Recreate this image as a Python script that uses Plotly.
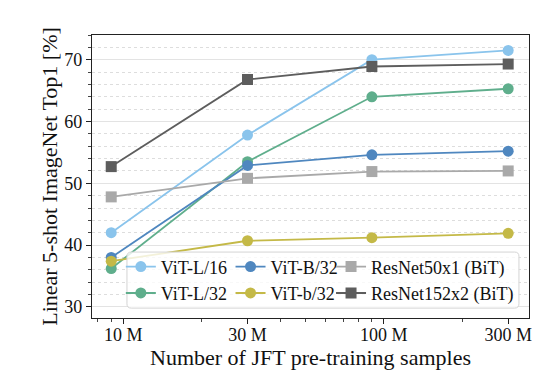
import plotly.graph_objects as go

samples_m = [9, 30, 90, 300]
tick_vals = [10, 30, 100, 300]
tick_text = ["10 M", "30 M", "100 M", "300 M"]

vit_l16 = [42.0, 57.8, 70.0, 71.5]
vit_l32 = [36.2, 53.5, 64.0, 65.3]
vit_b32 = [38.0, 52.9, 54.6, 55.2]
vit_b32s = [37.4, 40.7, 41.2, 41.9]
resnet50 = [47.8, 50.8, 51.9, 52.0]
resnet152 = [52.7, 66.8, 68.9, 69.3]

# name, values, colour, marker, legend column
series = [
    ("ViT-L/16", vit_l16, "#8ac4ec", "circle", "legend"),
    ("ViT-L/32", vit_l32, "#5fae8c", "circle", "legend"),
    ("ViT-B/32", vit_b32, "#4f87bf", "circle", "legend2"),
    ("ViT-b/32", vit_b32s, "#c4b947", "circle", "legend2"),
    ("ResNet50x1 (BiT)", resnet50, "#a9a9a9", "square", "legend3"),
    ("ResNet152x2 (BiT)", resnet152, "#5d5d5d", "square", "legend3"),
]

fig = go.Figure()
for name, vals, color, sym, lg in series:
    fig.add_trace(go.Scatter(
        x=samples_m, y=vals, name=name, mode="lines+markers", legend=lg,
        line=dict(color=color, width=1.8),
        marker=dict(color=color, symbol=sym, size=11),
    ))

font = "Liberation Serif, Times New Roman, serif"
FS = 18

def leg(x):
    return dict(orientation="v", x=x, y=0.246, xanchor="left", yanchor="top",
                bgcolor="rgba(0,0,0,0)", borderwidth=0,
                font=dict(size=FS, family=font, color="#111"),
                itemwidth=30, tracegroupgap=0)

# rounded legend frame (paper coordinates)
x0, x1, y0, y1 = 0.080, 0.977, 0.035, 0.233
rx, ry = 0.010, 0.015
frame = (f"M {x0+rx},{y0} L {x1-rx},{y0} Q {x1},{y0} {x1},{y0+ry} "
         f"L {x1},{y1-ry} Q {x1},{y1} {x1-rx},{y1} L {x0+rx},{y1} "
         f"Q {x0},{y1} {x0},{y1-ry} L {x0},{y0+ry} Q {x0},{y0} {x0+rx},{y0} Z")

# page body has an 8 px margin, so the figure is sized/offset to compensate
fig.update_layout(
    width=537, height=367,
    margin=dict(l=84, r=16, t=27, b=57),
    paper_bgcolor="white", plot_bgcolor="white",
    font=dict(family=font, size=FS, color="#111"),
    legend=leg(0.066),
    legend2=leg(0.317),
    legend3=leg(0.547),
    shapes=[dict(type="path", path=frame, xref="paper", yref="paper",
                 fillcolor="rgba(255,255,255,0.8)",
                 line=dict(color="#d4d4d4", width=1), layer="above")],
    xaxis=dict(
        type="log", range=[0.8805, 2.557], automargin=False,
        tickvals=tick_vals, ticktext=tick_text, ticklabelstandoff=-5,
        ticks="outside", ticklen=5, tickcolor="#222",
        showline=True, linecolor="#222", linewidth=1.2, mirror=True,
        showgrid=False, zeroline=False,
        minor=dict(ticks="outside", ticklen=3, tickcolor="#444", showgrid=False,
                   tickvals=[8, 9, 20, 40, 50, 60, 70, 80, 90, 200]),
        title=dict(text="Number of JFT pre-training samples", standoff=4),
    ),
    yaxis=dict(
        range=[28.2, 74.0], tickvals=[30, 40, 50, 60, 70], automargin=False,
        ticks="outside", ticklen=5, tickcolor="#222",
        showline=True, linecolor="#222", linewidth=1.2, mirror=True,
        showgrid=True, gridcolor="#e3e3e3", gridwidth=1.2, zeroline=False,
        minor=dict(dtick=2, tick0=30, ticks="outside", ticklen=3, tickcolor="#444",
                   showgrid=True, gridcolor="#dddddd", griddash="dot", gridwidth=1),
        title=dict(text="Linear 5-shot ImageNet Top1 [%]", standoff=0),
    ),
)

fig.write_html("out.html")
